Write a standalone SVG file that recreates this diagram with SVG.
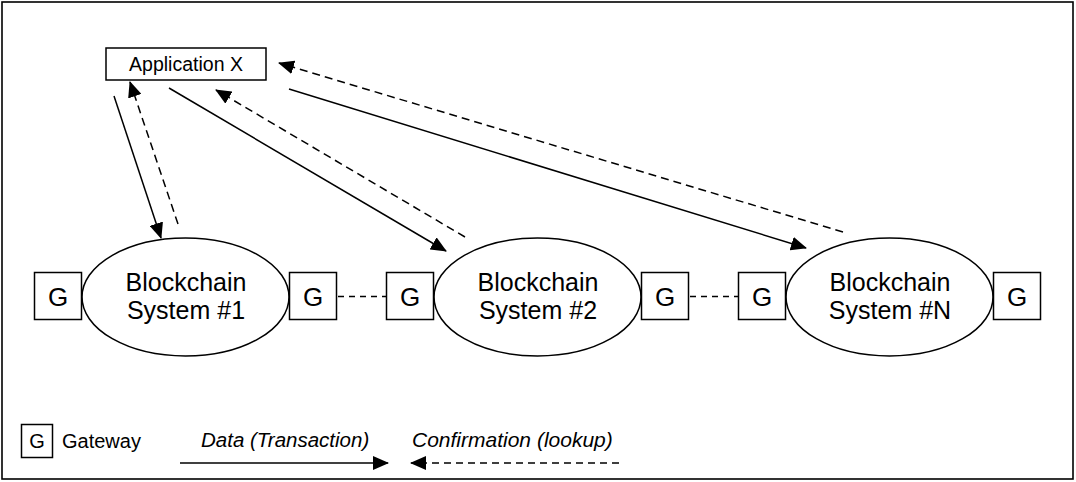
<svg xmlns="http://www.w3.org/2000/svg" width="1076" height="482" viewBox="0 0 1076 482">
<defs>
<marker id="ah" markerUnits="userSpaceOnUse" markerWidth="16" markerHeight="14" viewBox="0 0 16 14" refX="15" refY="7" orient="auto">
<path d="M0,0 L16,7 L0,14 Z" fill="#000"/>
</marker>
<style>
.box{fill:#fff;stroke:#000;stroke-width:1.5}
.ell{fill:#fff;stroke:#000;stroke-width:1.5}
.t{font-family:"Liberation Sans",Helvetica,Arial,sans-serif;fill:#000}
.solid{fill:none;stroke:#000;stroke-width:1.5;marker-end:url(#ah)}
.dash{fill:none;stroke:#000;stroke-width:1.5;stroke-dasharray:8 5;marker-end:url(#ah)}
.link{fill:none;stroke:#000;stroke-width:1.5;stroke-dasharray:6 5}
</style>
</defs>
<rect x="2" y="2" width="1071" height="477" fill="#fff" stroke="#000" stroke-width="1.6"/>

<g id="connectors">
<line class="solid" x1="114" y1="96" x2="161" y2="238"/>
<line class="dash" x1="178" y1="224" x2="130" y2="82"/>
<line class="solid" x1="169" y1="88" x2="446" y2="251"/>
<line class="dash" x1="465" y1="237" x2="216" y2="90"/>
<line class="solid" x1="289" y1="89" x2="806" y2="248"/>
<line class="dash" x1="843" y1="232" x2="279" y2="63"/>
<line class="link" x1="338" y1="296.5" x2="386" y2="296.5"/>
<line class="link" x1="690" y1="296.5" x2="738" y2="296.5"/>
</g>

<g id="app">
<rect class="box" x="106" y="48" width="160" height="32"/>
<text class="t" x="186" y="71" font-size="19.5" text-anchor="middle">Application X</text>
</g>

<g id="bc1">
<ellipse class="ell" cx="185.5" cy="297" rx="103.5" ry="59"/>
<text class="t" x="186" y="291" font-size="25" text-anchor="middle">Blockchain</text>
<text class="t" x="186" y="319" font-size="25" text-anchor="middle">System #1</text>
</g>
<g id="bc2">
<ellipse class="ell" cx="537.5" cy="297" rx="103.5" ry="59"/>
<text class="t" x="538" y="291" font-size="25" text-anchor="middle">Blockchain</text>
<text class="t" x="538" y="319" font-size="25" text-anchor="middle">System #2</text>
</g>
<g id="bcN">
<ellipse class="ell" cx="889.5" cy="297" rx="103.5" ry="59"/>
<text class="t" x="890" y="291" font-size="25" text-anchor="middle">Blockchain</text>
<text class="t" x="890" y="319" font-size="25" text-anchor="middle">System #N</text>
</g>

<g id="g1"><rect class="box" x="34.5" y="272.5" width="47" height="47"/><text class="t" x="58" y="306" font-size="26" text-anchor="middle">G</text></g>
<g id="g2"><rect class="box" x="289.5" y="272.5" width="47" height="47"/><text class="t" x="313" y="306" font-size="26" text-anchor="middle">G</text></g>
<g id="g3"><rect class="box" x="386.5" y="272.5" width="47" height="47"/><text class="t" x="410" y="306" font-size="26" text-anchor="middle">G</text></g>
<g id="g4"><rect class="box" x="641.5" y="272.5" width="47" height="47"/><text class="t" x="665" y="306" font-size="26" text-anchor="middle">G</text></g>
<g id="g5"><rect class="box" x="738.5" y="272.5" width="47" height="47"/><text class="t" x="762" y="306" font-size="26" text-anchor="middle">G</text></g>
<g id="g6"><rect class="box" x="993.5" y="272.5" width="47" height="47"/><text class="t" x="1017" y="306" font-size="26" text-anchor="middle">G</text></g>

<g id="legend">
<rect class="box" x="21.5" y="424.5" width="31" height="33"/>
<text class="t" x="37" y="448" font-size="20" text-anchor="middle">G</text>
<text class="t" x="62" y="448" font-size="20">Gateway</text>
<text class="t" x="201" y="447" font-size="20.5" font-style="italic">Data (Transaction)</text>
<line class="solid" x1="180" y1="463" x2="388" y2="463"/>
<text class="t" x="412" y="447" font-size="21" font-style="italic">Confirmation (lookup)</text>
<line class="dash" x1="619" y1="463" x2="411" y2="463" style="stroke-dasharray:7 5"/>
</g>
</svg>
